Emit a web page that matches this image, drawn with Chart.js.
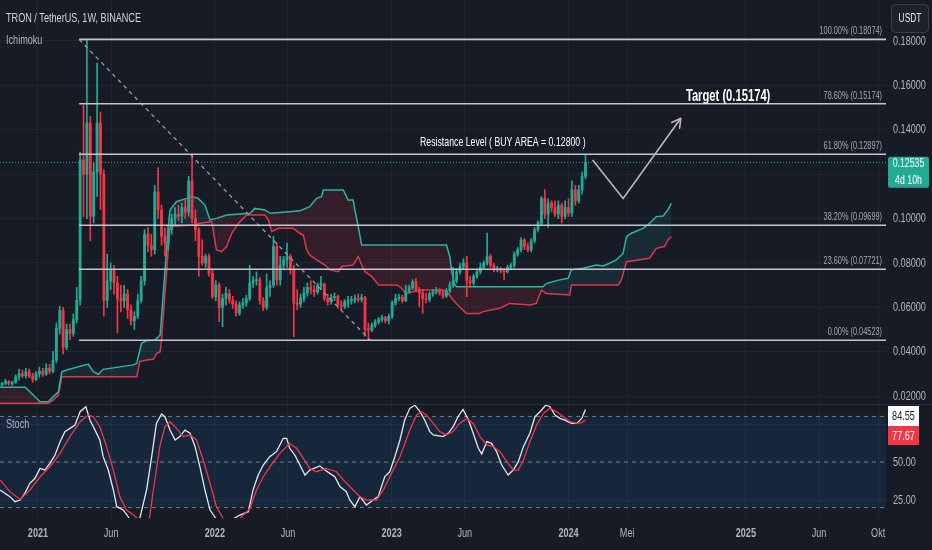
<!DOCTYPE html>
<html>
<head>
<meta charset="utf-8">
<script src="https://cdn.jsdelivr.net/npm/chart.js@4.4.1/dist/chart.umd.min.js"></script>
<style>
html,body{margin:0;padding:0;background:#171b26;overflow:hidden}
#wrap{position:relative;width:932px;height:550px;background:#171b26}
#c1{position:absolute;left:0;top:0}
#c2{position:absolute;left:0;top:404px}
</style>
</head>
<body>
<div id="wrap">
<canvas id="c1" width="932" height="404"></canvas>
<canvas id="c2" width="932" height="146"></canvas>
</div>
<script>
// ---------------- DATA ----------------
const firstWeek = '2020-10-19';           // week index 0
const headerTitle = 'TRON / TetherUS, 1W, BINANCE';
const indicatorName = 'Ichimoku';
const oscName = 'Stoch';
const quoteCurrency = 'USDT';
const timeLeft = '4d 10h';

const opens = [
.0250,.0258,.0266,.0256,.0263,.0287,.0301,.0292,.0311,.0291,
.0276,.0302,.0312,.0299,.0326,.0312,.0362,.0505,.0585,.0420,
.0500,.0482,.0545,.0632,.1265,.1200,.1430,.1010,.1210,.1430,
.1200,.0632,.0720,.0770,.0710,.0640,.0630,.0660,.0590,.0540,
.0560,.0630,.0720,.0930,.0880,.0860,.1120,.1040,.0920,.0890,
.0950,.1000,.1020,.1010,.1050,.1030,.1170,.1000,.0950,.0830,
.0800,.0828,.0754,.0648,.0700,.0600,.0640,.0663,.0633,.0615,
.0575,.0610,.0620,.0640,.0710,.0720,.0725,.0630,.0600,.0690,
.0700,.0874,.0724,.0790,.0814,.0830,.0770,.0620,.0615,.0640,
.0665,.0690,.0680,.0670,.0700,.0705,.0640,.0625,.0645,.0650,
.0610,.0605,.0625,.0630,.0632,.0640,.0635,.0645,.0500,.0498,
.0520,.0535,.0545,.0555,.0540,.0560,.0620,.0640,.0645,.0630,
.0670,.0690,.0715,.0680,.0665,.0640,.0635,.0660,.0670,.0675,
.0665,.0650,.0675,.0700,.0720,.0760,.0784,.0800,.0720,.0710,
.0740,.0760,.0780,.0800,.0830,.0790,.0770,.0775,.0765,.0760,
.0780,.0790,.0840,.0860,.0904,.0874,.0860,.0900,.0950,.0980,
.1090,.1020,.1070,.1050,.1020,.1060,.1010,.1050,.1025,.1130,
.1080,.1130,.1190];
const highs = [
.0262,.0276,.0270,.0268,.0296,.0322,.0318,.0326,.0322,.0304,
.0311,.0331,.0326,.0346,.0344,.0402,.0530,.0605,.0600,.0525,
.0525,.0570,.0690,.1300,.1510,.18074,.1460,.1250,.1700,.1480,
.1220,.0840,.0800,.0790,.0740,.0700,.0700,.0680,.0610,.0580,
.0660,.0740,.0950,.0960,.0930,.1150,.1230,.1060,.0960,.0970,
.1020,.1050,.1060,.1070,.1090,.1190,.1286,.1040,.0960,.0905,
.0840,.0840,.0770,.0720,.0710,.0660,.0690,.0680,.0650,.0630,
.0625,.0640,.0655,.0790,.0740,.0760,.0735,.0645,.0750,.0720,
.0920,.0890,.0830,.0830,.0890,.0840,.0790,.0680,.0660,.0690,
.0710,.0720,.0700,.0710,.0740,.0710,.0660,.0660,.0665,.0655,
.0630,.0635,.0650,.0650,.0655,.0660,.0660,.0650,.0530,.0530,
.0545,.0555,.0565,.0560,.0570,.0630,.0660,.0660,.0655,.0700,
.0700,.0725,.0730,.0690,.0680,.0665,.0670,.0680,.0690,.0685,
.0675,.0685,.0715,.0780,.0775,.0800,.0820,.0830,.0740,.0750,
.0770,.0800,.0810,.0935,.0840,.0800,.0785,.0780,.0775,.0790,
.0800,.0850,.0870,.0915,.0910,.0890,.0910,.0960,.0990,.1100,
.1130,.1090,.1080,.1080,.1080,.1070,.1080,.1090,.1170,.1150,
.1150,.1210,.1288];
const lows = [
.0245,.0252,.0250,.0248,.0258,.0272,.0284,.0281,.0283,.0262,
.0270,.0286,.0289,.0294,.0301,.0305,.0350,.0480,.0390,.0410,
.0455,.0470,.0530,.0610,.1010,.1000,.0900,.0980,.1100,.1040,
.0560,.0600,.0680,.0660,.0485,.0580,.0600,.0550,.0520,.0500,
.0550,.0620,.0700,.0850,.0830,.0840,.1000,.0880,.0830,.0860,
.0930,.0970,.0990,.0980,.1000,.1010,.0980,.0900,.0740,.0790,
.0780,.0740,.0640,.0630,.0536,.0513,.0610,.0620,.0595,.0560,
.0565,.0595,.0605,.0630,.0690,.0700,.0615,.0585,.0590,.0650,
.0690,.0700,.0700,.0770,.0780,.0750,.0468,.0590,.0600,.0625,
.0650,.0660,.0650,.0660,.0680,.0630,.0610,.0615,.0630,.0595,
.0590,.0595,.0600,.0615,.0620,.0625,.0625,.0470,.04523,.0490,
.0510,.0525,.0535,.0530,.0525,.0550,.0610,.0630,.0620,.0625,
.0665,.0680,.0670,.0603,.0573,.0620,.0625,.0650,.0660,.0655,
.0640,.0645,.0665,.0690,.0710,.0750,.0770,.0648,.0690,.0700,
.0730,.0750,.0770,.0790,.0780,.0760,.0760,.0755,.0724,.0755,
.0770,.0780,.0830,.0850,.0860,.0850,.0850,.0890,.0940,.0970,
.1000,.0960,.1030,.1010,.1000,.0980,.1000,.1010,.1010,.1060,
.1070,.1110,.1180];
const closes = [
.0258,.0266,.0256,.0263,.0287,.0301,.0292,.0311,.0291,.0276,
.0302,.0312,.0299,.0326,.0312,.0362,.0505,.0585,.0420,.0500,
.0482,.0545,.0632,.1265,.1200,.1430,.1010,.1210,.1430,.1200,
.0632,.0720,.0770,.0710,.0640,.0630,.0660,.0590,.0540,.0560,
.0630,.0720,.0930,.0880,.0860,.1120,.1040,.0920,.0890,.0950,
.1000,.1020,.1010,.1050,.1030,.1170,.1000,.0950,.0830,.0800,
.0828,.0754,.0648,.0700,.0600,.0640,.0663,.0633,.0615,.0575,
.0610,.0620,.0640,.0710,.0720,.0725,.0630,.0600,.0690,.0700,
.0874,.0724,.0790,.0814,.0830,.0770,.0620,.0615,.0640,.0665,
.0690,.0680,.0670,.0700,.0705,.0640,.0625,.0645,.0650,.0610,
.0605,.0625,.0630,.0632,.0640,.0635,.0645,.0500,.0498,.0520,
.0535,.0545,.0555,.0540,.0560,.0620,.0640,.0645,.0630,.0670,
.0690,.0715,.0680,.0665,.0640,.0635,.0660,.0670,.0675,.0665,
.0650,.0675,.0700,.0720,.0760,.0784,.0800,.0720,.0710,.0740,
.0760,.0780,.0800,.0830,.0790,.0770,.0775,.0765,.0760,.0780,
.0790,.0840,.0860,.0904,.0874,.0860,.0900,.0950,.0980,.1090,
.1020,.1070,.1050,.1020,.1060,.1010,.1050,.1025,.1130,.1080,
.1130,.1190,.12535];

// Ichimoku leading spans, [week index, price]
const spanA = [[-0.6,.0240],[6.8,.0240],[11.2,.0175],[13.6,.0175],[15.1,.0198],[16.6,.0220],[17.6,.0310],[19,.0318],
[25.4,.0345],[26.9,.0310],[28.4,.0299],[29.8,.0321],[38.7,.0341],[39.7,.0348],[41.1,.0438],[42.6,.0450],[45.1,.0453],
[46.6,.0476],[49.0,.0964],[49.5,.1039],[51.4,.1076],[54.4,.1091],[55.9,.1099],[57.8,.1091],[59.8,.1061],[61.3,.0994],
[63.2,.1001],[66.2,.1016],[73.1,.1024],[74.5,.1046],[77.5,.1039],[79.0,.1024],[84.8,.1031],[87.8,.1035],[90.7,.1054],
[92.7,.1091],[94.2,.1099],[94.7,.1129],[100.6,.1129],[102.0,.1084],[103.5,.1084],[104.0,.1039],[105.0,.0964],[106.0,.0881],
[131.0,.0881],[132.0,.0829],[132.5,.0769],[133.3,.0705],[134.0,.0693],[159.5,.0693],[160.5,.0708],[164.4,.0724],
[166.9,.0731],[167.8,.0769],[171.3,.0776],[175.2,.0791],[177.2,.0787],[179.1,.0799],[181.1,.0814],[183.1,.0844],
[184.1,.0919],[185.5,.0934],[189.0,.0956],[190.9,.0979],[192.9,.1009],[194.9,.1012],[196.3,.1039],[197.3,.1069]];
const spanB = [[-0.6,.0168],[13.6,.0168],[15.1,.0183],[16.6,.0205],[17.6,.0288],[39.7,.0288],[40.6,.0356],[42.6,.0363],
[44.6,.0366],[45.6,.0393],[46.6,.0400],[47.0,.0453],[49.5,.0964],[56.4,.0971],[58.3,.0979],[61.8,.0986],[63.2,.0859],
[64.7,.0851],[66.2,.0874],[67.7,.0934],[69.7,.0979],[72.1,.1016],[77.5,.1016],[78.5,.0994],[79.5,.0941],[81.4,.0956],
[85.8,.0956],[87.8,.0934],[88.8,.0926],[89.8,.0859],[90.7,.0836],[92.7,.0814],[95.2,.0791],[96.6,.0769],[99.1,.0761],
[100.1,.0784],[103.5,.0791],[105.0,.0829],[106.0,.0791],[107.0,.0761],[109.0,.0739],[111.0,.0701],[116.3,.0701],
[117.3,.0693],[119.2,.0663],[123.2,.0678],[130.0,.0678],[131.5,.0663],[133.0,.0633],[134.0,.0615],[136.9,.0573],
[140.8,.0573],[141.8,.0581],[146.7,.0596],[149.7,.0618],[155.6,.0611],[157.5,.0618],[159.0,.0678],[160.5,.0663],
[167.4,.0656],[167.8,.0701],[181.6,.0701],[182.6,.0724],[184.1,.0806],[190.9,.0821],[191.9,.0844],[192.9,.0866],
[195.3,.0874],[196.3,.0904],[197.3,.0919]];
// cloud colour regions (week index ranges shaded green; elsewhere red)
const greenCloudRanges = [[12, 62], [160, 999]];

// Stochastic %K and %D, [week index, value]
const stochK = [[-0.6,31.6],[2.3,27.2],[3.8,23.9],[5.3,25],[6.7,29.4],[8.2,36],[9.7,39.3],[11.2,45.8],[12.6,44.7],[14.1,49.1],
[15.6,54.6],[17.1,63.4],[18.5,70],[20,72.1],[21.5,74.3],[23,83.1],[24.7,86.4],[25.9,77.6],[27.4,71],[28.8,64.5],[29.8,53.5],
[31.3,44.7],[32.8,31.6],[33.8,20.6],[35.7,18.4],[37.2,14],[38.6,6],[40.6,13],[42.6,31.6],[44.1,53.5],[45.5,75.4],[47,81.6],
[48,79.8],[49.5,71],[51,64.5],[52.4,66.7],[53.9,71],[55.4,68.9],[56.9,60.1],[58.3,47],[59.8,31.6],[61.3,18.4],[62.7,14],
[64.2,6],[66.5,4],[68.1,12.5],[70.1,15.1],[72.6,17.3],[74,31.6],[75.5,41.4],[77,48],[78.9,53.5],[80.9,56.8],[82.9,65.6],
[83.9,65.6],[84.8,59],[86.3,54.6],[87.8,48],[89.3,41.4],[90.7,44.7],[93.7,47.4],[95.2,44.7],[96.6,42.5],[98.1,40.3],
[99.6,33.8],[101.5,30.5],[102.5,25],[104,20.6],[105.5,27.2],[107.4,21.7],[109.4,25],[110.9,27.2],[112.8,40.3],[114.3,43.6],
[115.8,53.5],[117.3,64.5],[118.7,77.6],[120.2,85.3],[121.7,87.5],[123.2,83.1],[124.6,77.6],[126.1,70],[127.1,67.8],
[130,66.7],[131.5,68.9],[133,73.2],[134.4,79.8],[135.9,84.6],[137.5,77.6],[138.9,68.9],[140.4,59],[141.4,55.3],
[142.9,63.4],[144.3,62.3],[145.8,56.8],[147.3,48],[149.2,41.4],[150.7,44.7],[152.2,50.2],[153.7,60.1],[155.6,68.9],
[157.1,79.8],[158.6,83.1],[160.3,87.5],[161.5,86.4],[163,80.9],[164.5,78.7],[165.9,77.6],[167.9,75.4],[169.4,75.4],
[170.9,78.7],[172,84.55]];
const stochD = [[-0.6,38.2],[2.3,30.5],[5.3,25.4],[8.2,31.6],[11.2,40.3],[14.1,46.9],[17.1,55.7],[20,66.7],[23,76.5],
[25.4,81],[26.9,79.8],[28.8,73.2],[30.8,60.1],[32.8,44.7],[34.7,27.2],[36.7,18.4],[38.7,15.1],[40.1,12.5],[42,7],
[43.5,14],[44.6,31.6],[46.5,60.1],[48,73.2],[49.5,76.5],[51.4,72.1],[53.4,66.7],[55.4,67.8],[57.3,64.5],[59.3,51.3],
[61.3,36],[63.2,20.6],[65.2,12.9],[67,8],[70.1,12.9],[73.1,19.5],[75,31.6],[77,40.3],[79,46.9],[81.9,55.7],[84.8,62.3],
[86.8,59],[88.8,52.4],[90.7,45.8],[92.7,43.6],[95.6,45.8],[98.6,43.6],[100.6,38.2],[103.5,31.6],[105.5,27.2],[107.4,25],
[110.4,25],[112.4,31.6],[114.8,42.5],[117.3,53.5],[120.2,71],[122.2,80.9],[123.6,83.1],[125.1,80.9],[127.1,75.4],
[129,70],[131,67.8],[133,70],[134.9,75.4],[137,78.7],[138.9,75.4],[140.9,66.7],[142.9,61.2],[144.8,60.1],[146.8,56.8],
[148.8,50.2],[150.7,44.7],[152.2,44.7],[153.7,51.3],[155.6,63.4],[157.6,74.3],[159.6,82],[161.5,85.3],[163.5,83.1],
[165.5,79.8],[167.4,76.5],[169.4,75.4],[170.9,75.9],[172,77.67]];
const stochLevels = [80, 50, 20];

// Fibonacci retracement
const fibLevels = [0.18074, 0.15174, 0.12897, 0.09699, 0.07721, 0.04523];
const fibLabels = ['100.00% (0.18074)','78.60% (0.15174)','61.80% (0.12897)','38.20% (0.09699)','23.60% (0.07721)','0.00% (0.04523)'];
const fibStartWeek = 22.7;
const trendLine = [[22.7, 0.18074], [108.5, 0.04523]];
// projected path drawn by the author
const pathWeeks = [174.1, 183.1, 200.1];
const pathPrices = [0.1264, 0.1091, 0.1452];
const notes = [
  {text: 'Target (0.15174)', week: 201.6, price: 0.1548, size: 16, bold: true},
  {text: 'Resistance Level ( BUY AREA = 0.12800 )', week: 123.2, price: 0.1341, size: 12.5, bold: false}
];

// axes
const priceTicks = [0.02, 0.04, 0.06, 0.08, 0.10, 0.12, 0.14, 0.16, 0.18];
const priceTickLabels = ['0.02000','0.04000','0.06000','0.08000','0.10000','0.12000','0.14000','0.16000','0.18000'];
const stochTicks = [25, 50, 75];
const stochTickLabels = ['25.00', '50.00', '75.00'];
const tickDates = ['2021-01-01','2021-06-01','2022-01-01','2022-06-01','2023-01-01','2023-06-01','2024-01-01','2024-05-01','2025-01-01','2025-06-01','2025-10-01'];
const tickLabels = ['2021','Jun','2022','Jun','2023','Jun','2024','Mei','2025','Jun','Okt'];

// ---------------- VIEW ----------------
const X_MIN = -0.62, X_MAX = 260.6;
const P_MIN = 0.016486, P_MAX = 0.198468;
const S_MIN = 13.16, S_MAX = 88.16;
const AXIS_W = 46;
const BG = '#171b26', GRID = '#212531', TXT = '#b2b5be';
const UP = '#22ab94', DOWN = '#f23645';
const TEAL_LINE = '#2ab7a0', RED_LINE = '#e0364c';
const CLOUD_GREEN = 'rgba(38,166,154,0.13)', CLOUD_RED = 'rgba(242,54,69,0.13)';
const FONT = "'Liberation Sans','DejaVu Sans',sans-serif";
const SX = 0.7;   // horizontal squeeze of the lettering, as in the reference
Chart.defaults.font.family = FONT;
Chart.defaults.color = TXT;

function condense(canvas) {
  const ctx = canvas.getContext('2d');
  const orig = ctx.fillText.bind(ctx);
  ctx.fillText = function (t, x, y, w) {
    this.save(); this.translate(x, y); this.scale(SX, 1);
    if (w === undefined) orig(t, 0, 0); else orig(t, 0, 0, w / SX);
    this.restore();
  };
  return canvas;
}

const weekMs = 7 * 864e5;
const tickPos = tickDates.map(d => (Date.parse(d) - Date.parse(firstWeek)) / weekMs);
const idx = closes.map((_, i) => i);
const candleColors = idx.map(i => closes[i] >= opens[i] ? UP : DOWN);
const toXY = a => a.map(p => ({x: p[0], y: p[1]}));
const cloudColor = x => greenCloudRanges.some(r => x >= r[0] && x < r[1]) ? CLOUD_GREEN : CLOUD_RED;
function zeroPad(s) { s.paddingTop = 0; s.paddingBottom = 0; s.paddingLeft = 0; s.paddingRight = 0; }
const lastClose = closes[closes.length - 1];

const bgPlugin = {
  id: 'bg',
  beforeDraw(chart) {
    const c = chart.ctx; c.save(); c.fillStyle = BG; c.fillRect(0, 0, chart.width, chart.height); c.restore();
  }
};

// ---------------- MAIN PANE ----------------
const mainSets = [];
mainSets.push({ // 0 projected path
  type: 'line', data: pathWeeks.map((w, k) => ({x: w, y: pathPrices[k]})),
  borderColor: '#c4b6b7', borderWidth: 1.6, pointRadius: 0, order: 0, fill: false
});
fibLevels.forEach(lv => mainSets.push({
  type: 'line', data: [{x: fibStartWeek, y: lv}, {x: X_MAX, y: lv}],
  borderColor: '#c3c6ce', borderWidth: 1.6, pointRadius: 0, order: 1, fill: false
}));
mainSets.push({
  type: 'line', data: toXY(trendLine), borderColor: '#9a9da6', borderWidth: 1.3,
  borderDash: [4, 4], pointRadius: 0, order: 1, fill: false
});
mainSets.push({
  type: 'bar', data: idx.map(i => ({x: i, y: [opens[i], closes[i]]})),
  backgroundColor: candleColors, barThickness: 2.2, minBarLength: 1, grouped: false, order: 4
});
mainSets.push({
  type: 'bar', data: idx.map(i => ({x: i, y: [lows[i], highs[i]]})),
  backgroundColor: candleColors, barThickness: 1, grouped: false, order: 5
});
const spanAIndex = mainSets.length;
mainSets.push({
  type: 'line', data: toXY(spanA), borderColor: TEAL_LINE, borderWidth: 1.5, pointRadius: 0, order: 8,
  backgroundColor: CLOUD_GREEN, fill: {target: spanAIndex + 1},
  segment: {backgroundColor: c => cloudColor(c.p0.parsed.x), borderColor: () => TEAL_LINE}
});
mainSets.push({
  type: 'line', data: toXY(spanB), borderColor: RED_LINE, borderWidth: 1.5, pointRadius: 0, order: 9, fill: false
});
mainSets.push({
  type: 'line', data: [{x: X_MIN, y: lastClose}, {x: X_MAX, y: lastClose}],
  borderColor: UP, borderWidth: 1, borderDash: [1, 2], pointRadius: 0, order: 10, fill: false
});

const mainOverlay = {
  id: 'mainOverlay',
  afterDraw(chart) {
    const {ctx, chartArea, scales: {x, y}} = chart;
    ctx.save();
    ctx.textBaseline = 'middle';
    ctx.textAlign = 'left';
    ctx.fillStyle = '#d1d4dc';
    ctx.font = `13px ${FONT}`;
    ctx.fillText(headerTitle, 6, 18);
    ctx.fillStyle = TXT;
    ctx.font = `13px ${FONT}`;
    ctx.fillText(indicatorName, 6, 40);
    // fib labels
    ctx.font = `10.5px ${FONT}`;
    ctx.fillStyle = '#a4a7b0';
    ctx.textAlign = 'right';
    fibLevels.forEach((lv, k) => ctx.fillText(fibLabels[k], chartArea.right - 4, y.getPixelForValue(lv) - 8));
    // notes
    ctx.textAlign = 'left';
    ctx.fillStyle = '#ffffff';
    notes.forEach(n => {
      ctx.font = `${n.bold ? 'bold ' : ''}${n.size}px ${FONT}`;
      ctx.fillText(n.text, x.getPixelForValue(n.week), y.getPixelForValue(n.price));
    });
    // arrow head
    const pts = chart.getDatasetMeta(0).data;
    const a = pts[pts.length - 2], b = pts[pts.length - 1];
    const ang = Math.atan2(b.y - a.y, b.x - a.x);
    ctx.strokeStyle = '#c4b6b7'; ctx.lineWidth = 1.6; ctx.lineCap = 'round';
    ctx.beginPath();
    [0.5, -0.5].forEach(d => {
      ctx.moveTo(b.x, b.y);
      ctx.lineTo(b.x - 10 * Math.cos(ang + d), b.y - 10 * Math.sin(ang + d));
    });
    ctx.stroke();
    // last price box
    const py = y.getPixelForValue(lastClose);
    const bx = chartArea.right + 2;
    ctx.fillStyle = UP;
    ctx.beginPath(); ctx.roundRect(bx, py - 5.5, 41, 31, 2); ctx.fill();
    ctx.fillStyle = '#ffffff'; ctx.textAlign = 'center';
    ctx.font = `12.5px ${FONT}`;
    ctx.fillText(lastClose.toFixed(5), bx + 20.5, py + 1);
    ctx.fillText(timeLeft, bx + 20.5, py + 18);
    // currency button
    ctx.fillStyle = '#1d212c'; ctx.strokeStyle = '#3a3e4a'; ctx.lineWidth = 1;
    ctx.beginPath(); ctx.roundRect(891.5, 4.5, 37, 28, 4); ctx.fill(); ctx.stroke();
    ctx.fillStyle = '#e6e8ee';
    ctx.font = `12px ${FONT}`;
    ctx.fillText(quoteCurrency, 910, 19);
    ctx.restore();
  }
};

new Chart(condense(document.getElementById('c1')), {
  type: 'bar',
  data: {datasets: mainSets},
  options: {
    responsive: false, animation: false, events: [],
    layout: {padding: 0},
    plugins: {legend: {display: false}, tooltip: {enabled: false}, filler: {drawTime: 'beforeDatasetsDraw'}},
    scales: {
      x: {
        type: 'linear', min: X_MIN, max: X_MAX, offset: false, bounds: 'data',
        grid: {color: GRID, drawTicks: false, offset: false}, border: {display: false},
        ticks: {display: false},
        afterBuildTicks: s => { s.ticks = tickPos.map(v => ({value: v})); },
        afterFit: s => { s.height = 0; zeroPad(s); }
      },
      y: {
        type: 'linear', position: 'right', min: P_MIN, max: P_MAX, bounds: 'data',
        grid: {color: GRID, drawTicks: false}, border: {display: false},
        ticks: {
          color: TXT, padding: 7, font: {size: 13},
          callback: (v, i) => (priceTicks[i] === 0.12 ? '' : priceTickLabels[i])
        },
        afterBuildTicks: s => { s.ticks = priceTicks.map(v => ({value: v})); },
        afterFit: s => { s.width = AXIS_W; zeroPad(s); }
      }
    }
  },
  plugins: [bgPlugin, mainOverlay]
});

// ---------------- STOCH PANE ----------------
const stochSets = [
  {data: toXY(stochD), borderColor: '#f23645', borderWidth: 1.3, pointRadius: 0, order: 0, fill: false},
  {data: toXY(stochK), borderColor: '#e6e7ec', borderWidth: 1.3, pointRadius: 0, order: 1, fill: false}
];
stochLevels.forEach((lv, k) => stochSets.push({
  data: [{x: X_MIN, y: lv}, {x: X_MAX, y: lv}],
  borderColor: '#787b86', borderWidth: 1, borderDash: [4, 4], pointRadius: 0, order: 5,
  backgroundColor: 'rgba(33,150,243,0.1)',
  fill: k === 0 ? {target: 2 + stochLevels.length - 1} : false
}));

const stochOverlay = {
  id: 'stochOverlay',
  afterDraw(chart) {
    const {ctx, chartArea, scales: {y}} = chart;
    ctx.save();
    ctx.strokeStyle = '#2a2e39'; ctx.lineWidth = 1;
    ctx.beginPath(); ctx.moveTo(0, 0.5); ctx.lineTo(chart.width, 0.5); ctx.stroke();
    ctx.textBaseline = 'middle';
    ctx.fillStyle = TXT; ctx.font = `13px ${FONT}`; ctx.textAlign = 'left';
    ctx.fillText(oscName, 6, 20);
    const k = stochK[stochK.length - 1][1], d = stochD[stochD.length - 1][1];
    const bx = chartArea.right + 2;
    const kt = Math.max(chartArea.top + 2, y.getPixelForValue(k) - 10);
    ctx.fillStyle = '#ffffff'; ctx.fillRect(bx, kt, 31, 20);
    const dt = Math.max(kt + 20, y.getPixelForValue(d) - 10);
    ctx.fillStyle = '#f23645'; ctx.fillRect(bx, dt, 31, 19);
    ctx.textAlign = 'center'; ctx.font = `13px ${FONT}`;
    ctx.fillStyle = '#131722'; ctx.fillText(k.toFixed(2), bx + 15.5, kt + 10.5);
    ctx.fillStyle = '#ffffff'; ctx.fillText(d.toFixed(2), bx + 15.5, dt + 10);
    ctx.restore();
  }
};

new Chart(condense(document.getElementById('c2')), {
  type: 'line',
  data: {datasets: stochSets},
  options: {
    responsive: false, animation: false, events: [],
    layout: {padding: 0},
    plugins: {legend: {display: false}, tooltip: {enabled: false}, filler: {drawTime: 'beforeDatasetsDraw'}},
    scales: {
      x: {
        type: 'linear', min: X_MIN, max: X_MAX, offset: false, bounds: 'data',
        grid: {color: GRID, drawTicks: false, offset: false}, border: {display: false},
        ticks: {
          color: TXT, padding: 8, autoSkip: false, maxRotation: 0,
          font: c => ({size: 13, weight: /^\d{4}$/.test(tickLabels[c.index] || '') ? 'bold' : 'normal'}),
          callback: (v, i) => tickLabels[i]
        },
        afterBuildTicks: s => { s.ticks = tickPos.map(v => ({value: v})); },
        afterFit: s => { s.height = 32; zeroPad(s); }
      },
      y: {
        type: 'linear', position: 'right', min: S_MIN, max: S_MAX, bounds: 'data',
        grid: {color: GRID, drawTicks: false}, border: {display: false},
        ticks: {color: TXT, padding: 7, font: {size: 13},
          callback: (v, i) => (stochTicks[i] === 75 ? '' : stochTickLabels[i])},
        afterBuildTicks: s => { s.ticks = stochTicks.map(v => ({value: v})); },
        afterFit: s => { s.width = AXIS_W; zeroPad(s); }
      }
    }
  },
  plugins: [bgPlugin, stochOverlay]
});
</script>
</body>
</html>
